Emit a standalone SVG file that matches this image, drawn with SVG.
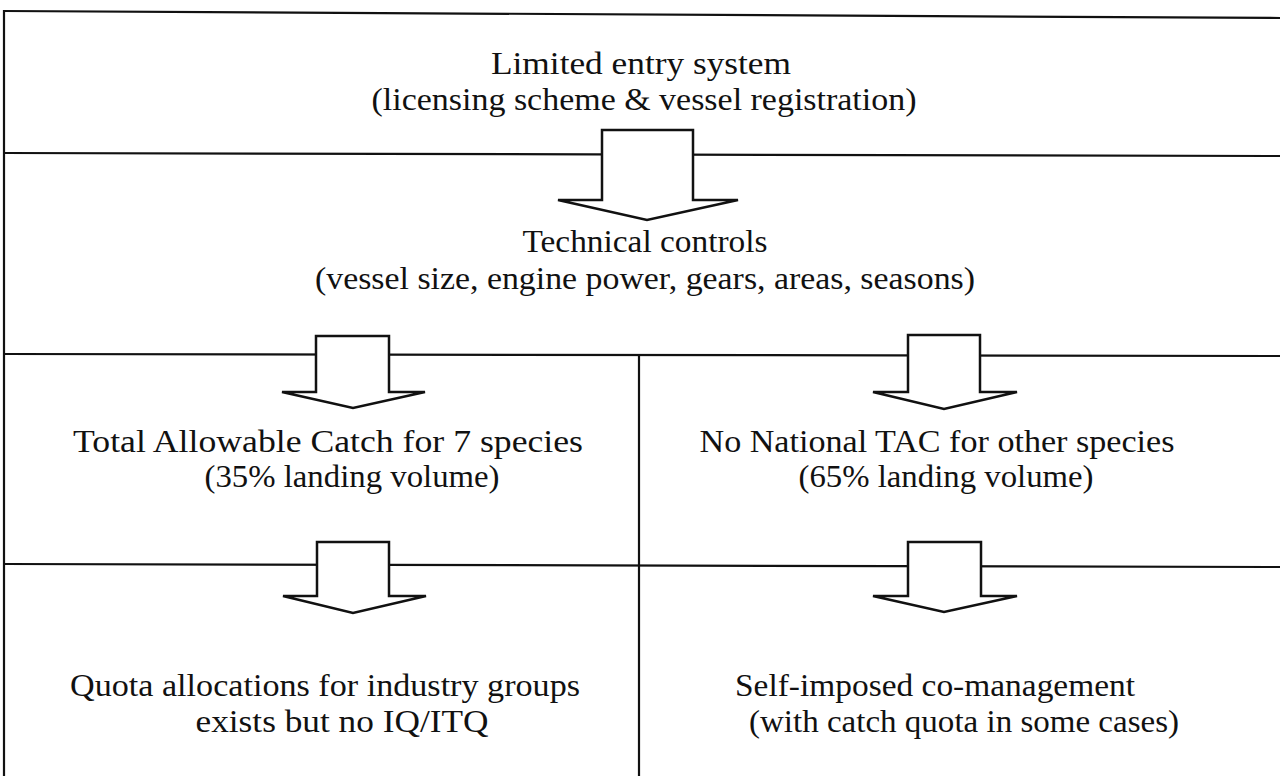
<svg xmlns="http://www.w3.org/2000/svg" width="1280" height="776" viewBox="0 0 1280 776">
<style>
.ln{stroke:#111;stroke-width:2.2;fill:none}
.ar{fill:#fff;stroke:#111;stroke-width:2.5;stroke-linejoin:miter}
text{font-family:"Liberation Serif","DejaVu Serif",serif;font-size:32px;fill:#111;text-anchor:middle}
</style>
<rect width="1280" height="776" fill="#fff"/>
<g id="frame">
<path class="ln" d="M4 11 L1280 18"/>
<path class="ln" d="M4 10 L4 776"/>
<path class="ln" d="M4 153 L1280 156"/>
<path class="ln" d="M4 354 L1280 356"/>
<path class="ln" d="M4 564 L1280 567"/>
<path class="ln" d="M639 355 L639 776"/>
</g>
<g id="n1"><text x="641" y="74" textLength="300" lengthAdjust="spacingAndGlyphs">Limited entry system</text><text x="644" y="110" textLength="545" lengthAdjust="spacingAndGlyphs">(licensing scheme &amp; vessel registration)</text></g>
<g id="n2"><text x="645" y="252" textLength="245" lengthAdjust="spacingAndGlyphs">Technical controls</text><text x="645" y="289" textLength="660" lengthAdjust="spacingAndGlyphs">(vessel size, engine power, gears, areas, seasons)</text></g>
<g id="n3"><text x="328" y="452" textLength="510" lengthAdjust="spacingAndGlyphs">Total Allowable Catch for 7 species</text><text x="352" y="487" textLength="295" lengthAdjust="spacingAndGlyphs">(35% landing volume)</text></g>
<g id="n4"><text x="937" y="452" textLength="475" lengthAdjust="spacingAndGlyphs">No National TAC for other species</text><text x="946" y="487" textLength="295" lengthAdjust="spacingAndGlyphs">(65% landing volume)</text></g>
<g id="n5"><text x="325" y="696" textLength="510" lengthAdjust="spacingAndGlyphs">Quota allocations for industry groups</text><text x="342" y="732" textLength="293" lengthAdjust="spacingAndGlyphs">exists but no IQ/ITQ</text></g>
<g id="n6"><text x="935" y="696" textLength="400" lengthAdjust="spacingAndGlyphs">Self-imposed co-management</text><text x="964" y="732" textLength="430" lengthAdjust="spacingAndGlyphs">(with catch quota in some cases)</text></g>
<g id="connectors">
<polygon class="ar" points="602,130 693,130 693,200 738,200 647,220 558,200 602,200"/>
<polygon class="ar" points="316,336 389,336 389,392 425,392 353,408 282,392 316,392"/>
<polygon class="ar" points="908,335 980,335 980,392 1017,392 944,409 873,392 908,392"/>
<polygon class="ar" points="317,542 389,542 389,596 426,596 353,613 283,596 317,596"/>
<polygon class="ar" points="908,542 981,542 981,596 1017,596 944,612 873,596 908,596"/>
</g>
</svg>
